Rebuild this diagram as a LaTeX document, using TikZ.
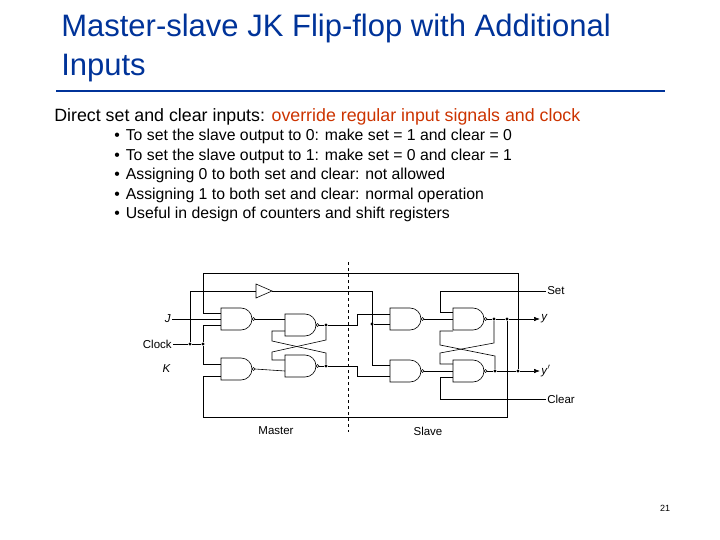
\documentclass[tikz,border=0pt]{standalone}
\usepackage{fontspec}
\setmainfont{Liberation Sans}
\definecolor{titleblue}{rgb}{0.0, 0.2, 0.6}
\definecolor{emphred}{rgb}{0.8, 0.2, 0.0}
\usetikzlibrary{positioning}
\usetikzlibrary{calc,arrows.meta}

\newcommand\nandgate[3]{%
  \draw (#1,#2-11) -- (#1+20,#2-11) arc (-90:90:11) -- (#1,#2+11) -- cycle;
  \draw (#1+32.5,#2) circle (1.5);
  \coordinate (#3) at (#1+34,#2);}

\begin{document}
\begin{tikzpicture}[x=1pt, y=-1pt, line width=.6pt,
    dot/.style={circle, fill, inner sep=1.2pt},
    lbl/.style={font=\fontsize{11.5}{12}\selectfont, inner sep=1pt},
    outarrow/.style={-{Latex[length=6pt]}}]
  \useasboundingbox (0,0) rectangle (720,540);

  % heading
  \node[anchor=west, text=titleblue, align=left, inner sep=0pt, font=\fontsize{31}{39}\selectfont] (title) at (61,48) {Master-slave JK Flip-flop with Additional\\Inputs};
  \draw[titleblue, line width=2.2pt] (56,91) -- (665,91);
  \node[anchor=west, inner sep=0pt, font=\fontsize{17.8}{20}\selectfont] (intro) at (54,117) {Direct set and clear inputs: \textcolor{emphred}{override regular input signals and clock}};
  \foreach \txt [count=\i] in {To set the slave output to 0: make set = 1 and clear = 0,
      To set the slave output to 1: make set = 0 and clear = 1,
      Assigning 0 to both set and clear: not allowed,
      Assigning 1 to both set and clear: normal operation,
      Useful in design of counters and shift registers} {
    \node[anchor=west, inner sep=0pt, font=\fontsize{15.8}{17}\selectfont] (b\i) at (114,117+19.5*\i) {\textbullet\hspace{6pt}\txt};
  }

  % gates
  \nandgate{221}{319}{g1}
  \nandgate{221}{369}{g2}
  \nandgate{285}{325}{g3}
  \nandgate{285}{366}{g4}
  \nandgate{390}{319}{g5}
  \nandgate{390}{371}{g6}
  \nandgate{453}{319}{g7}
  \nandgate{453}{371}{g8}

  % dashed divider
  \draw[dashed] (348,262) -- (348,432);
  \node[lbl] (master) at (276,431) {Master};
  \node[lbl] (slave) at (428,431) {Slave};

  % inputs
  \node[lbl, anchor=east] (J) at (172,319) {\textit{J}};
  \node[lbl, anchor=east] (clk) at (173,344) {Clock};
  \node[lbl, anchor=east] (K) at (172,369) {\textit{K}};
  \draw (J) -- (221,319);
  \node[dot] (c1) at (190,344) {};
  \node[dot] (c2) at (203,344) {};
  \draw (clk) -- (c1) -- (c2);
  \draw (c2) |- (221,325);
  \draw (c2) |- (221,364);
  \draw (203,273) -- (203,313) -- (221,313);
  \draw (203,417) -- (203,376) -- (221,376);

  % buffer on clock
  \draw (c1) |- (256,291);
  \draw (256,284) -- (256,298) -- (272,291) -- cycle;
  \node[dot] (c3) at (372,324) {};
  \draw (272,291) -- (372,291) -- (372,365) -- (390,365);
  \draw (c3) -- (390,324);

  % master
  \draw (g1) -- (285,319);
  \draw (g2) -- (285,371);
  \node[dot] (m1) at (326,325) {};
  \node[dot] (m2) at (326,366) {};
  \draw (g3) -- (m1);
  \draw (g4) -- (m2);
  \draw (m1) -- (326,340) -- (272,352) -- (272,360) -- (285,360);
  \draw (m2) -- (326,353) -- (272,341) -- (272,331) -- (285,331);
  \draw (m1) -- (357,325) -- (357,314) -- (390,314);
  \draw (m2) -- (357,366) -- (357,376) -- (390,376);

  % slave
  \draw (g5) -- (453,319);
  \draw (g6) -- (453,371);
  \node[dot] (s1) at (494,319) {};
  \node[dot] (s2) at (507,319) {};
  \node[dot] (s3) at (495,371) {};
  \node[dot] (s4) at (518,371) {};
  \node[lbl, anchor=west] (y) at (540,319) {\textit{y}};
  \node[lbl, anchor=west] (yb) at (540,371) {\textit{y}$'$};
  \draw (g7) -- (s1) -- (s2);
  \draw[outarrow] (s2) -- (y);
  \draw (g8) -- (s3) -- (s4);
  \draw[outarrow] (s4) -- (yb);
  \draw (s1) -- (494,343) -- (440,353) -- (440,364) -- (453,364);
  \draw (s3) -- (495,356) -- (440,345) -- (440,331) -- (453,331);

  % set, clear and feedback
  \node[lbl, anchor=west] (set) at (546,291) {Set};
  \node[lbl, anchor=west] (clr) at (546,399) {Clear};
  \draw (set) -- (440,291) -- (440,312) -- (453,312);
  \draw (clr) -- (440,399) -- (440,377) -- (453,377);
  \draw (s4) -- (518,273) -- (203,273);
  \draw (s2) -- (507,417) -- (203,417);

  \node[font=\fontsize{9}{10}\selectfont] (page) at (665,508) {21};
\end{tikzpicture}
\end{document}
